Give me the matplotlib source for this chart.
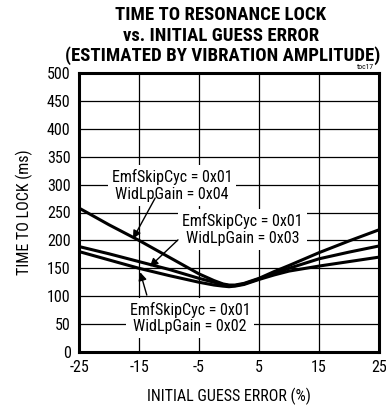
import matplotlib
matplotlib.use("Agg")
import matplotlib.pyplot as plt
from matplotlib import font_manager

names = {f.name for f in font_manager.fontManager.ttflist}
FONT = None
for cand in ["Liberation Sans Narrow", "Arial Narrow", "Roboto Condensed", "Open Sans Condensed"]:
    if cand in names:
        FONT = cand
        break
NARROW = FONT is not None
if FONT is None:
    FONT = "Liberation Sans"
plt.rcParams["font.family"] = [FONT, "DejaVu Sans"]
k = 1.0 if NARROW else 0.85

# Data
x_err = [-25, -20, -15, -10, -7.5, -5, -2.5, -1, 0, 1, 2.5, 5, 7.5, 10, 15, 20, 25]
gain_04 = [258, 228, 200, 170, 155, 140, 128, 122, 120, 120, 123, 132, 144, 155, 178, 199, 219]
gain_03 = [189, 176, 162, 148, 140, 132, 125, 121, 119, 119, 122, 131, 141, 150, 167, 179, 190]
gain_02 = [180, 165, 150, 137, 131, 125, 120, 118, 117, 118, 121, 130, 138, 145, 154, 162, 170]
x_ticks = [-25, -15, -5, 5, 15, 25]
y_ticks = [0, 50, 100, 150, 200, 250, 300, 350, 400, 450, 500]
labels = ["EmfSkipCyc = 0x01\nWidLpGain = 0x04",
          "EmfSkipCyc = 0x01\nWidLpGain = 0x03",
          "EmfSkipCyc = 0x01\nWidLpGain = 0x02"]

fig = plt.figure(figsize=(3.86, 4.05), dpi=100)
ax = fig.add_axes([79/386, 1-352/405, 300/386, 279/405])

for ys in (gain_04, gain_03, gain_02):
    ax.plot(x_err, ys, color="black", lw=2.2, solid_capstyle="butt",
            solid_joinstyle="round", zorder=3)

ax.set_xlim(-25, 25)
ax.set_ylim(0, 500)
ax.set_xticks(x_ticks)
ax.set_yticks(y_ticks)
ax.set_xticklabels([str(v) for v in x_ticks])
ax.grid(True, color="black", lw=0.9)
ax.tick_params(length=0, labelsize=11.5 * k, pad=6)
for s in ax.spines.values():
    s.set_linewidth(2.2)

fs = 11.5 * k
box = dict(boxstyle="square,pad=0.25", fc="white", ec="none")
arrow = dict(arrowstyle="-|>", color="black", lw=1.0, mutation_scale=12, shrinkA=0, shrinkB=0)
ax.text(-9.5, 299, labels[0], ha="center", va="center", fontsize=fs, bbox=box,
        zorder=4, linespacing=1.15)
ax.annotate("", xy=(-16, 203), xytext=(-12.3, 276), arrowprops=arrow, zorder=5)
ax.text(2.3, 219, labels[1], ha="center", va="center", fontsize=fs, bbox=box,
        zorder=4, linespacing=1.15)
ax.annotate("", xy=(-13.2, 153), xytext=(-8.5, 201), arrowprops=arrow, zorder=5)
ax.text(-6.5, 61, labels[2], ha="center", va="center", fontsize=fs, bbox=box,
        zorder=4, linespacing=1.15)
ax.annotate("", xy=(-14.8, 143), xytext=(-13.7, 102), arrowprops=arrow, zorder=5)

ax.set_xlabel("INITIAL GUESS ERROR (%)", fontsize=fs, labelpad=9)
ax.set_ylabel("TIME TO LOCK (ms)", fontsize=fs, labelpad=10)

tfs = 13.5 if NARROW else 11.3
fig.text(0.572, 1-15/405, "TIME TO RESONANCE LOCK", ha="center", va="center",
         fontsize=tfs, fontweight="bold")
fig.text(0.572, 1-36/405, "vs. INITIAL GUESS ERROR", ha="center", va="center",
         fontsize=tfs, fontweight="bold")
fig.text(0.578, 1-56/405, "(ESTIMATED BY VIBRATION AMPLITUDE)", ha="center", va="center",
         fontsize=tfs, fontweight="bold")
fig.text(374/386, 1-67/405, "toc17", ha="right", va="center", fontsize=5.5)

fig.savefig("out.png", dpi=100)
